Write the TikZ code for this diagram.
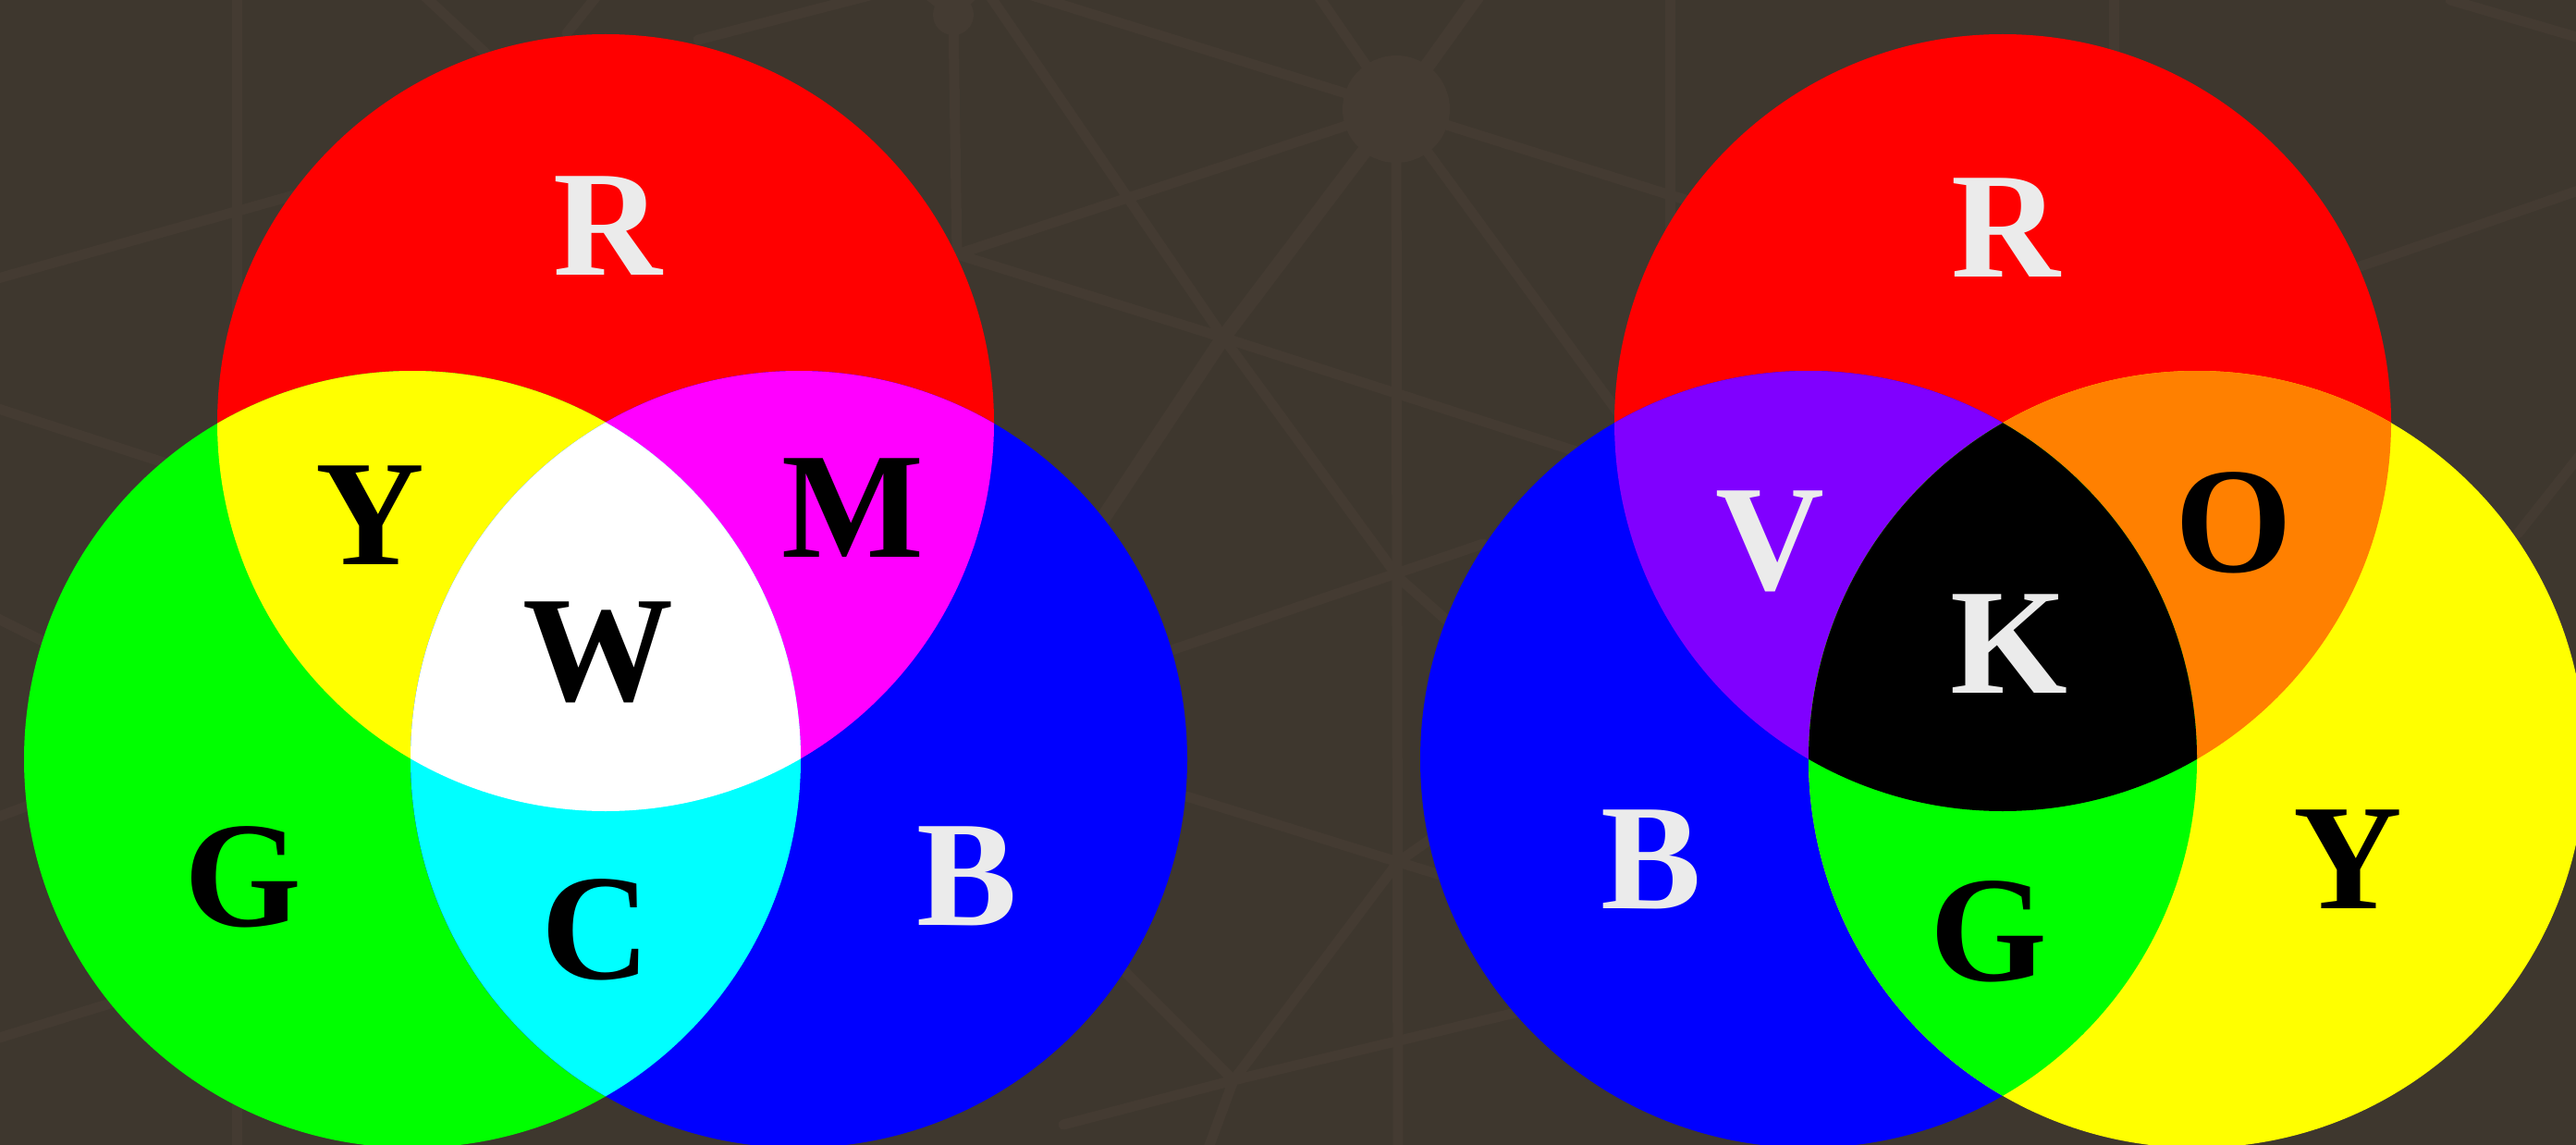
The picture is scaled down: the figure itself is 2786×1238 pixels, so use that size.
\documentclass[tikz,border=0pt]{standalone}
\usepackage{fontspec}
\setmainfont{Liberation Serif}
\definecolor{bgc}{RGB}{62,55,46}
\definecolor{webc}{RGB}{68,59,50}
\definecolor{litec}{RGB}{235,235,235}
\definecolor{cred}{RGB}{255,0,0}
\definecolor{cgreen}{RGB}{0,255,0}
\definecolor{cblue}{RGB}{0,0,255}
\definecolor{cyellow}{RGB}{255,255,0}
\definecolor{cmagenta}{RGB}{255,0,255}
\definecolor{ccyan}{RGB}{0,255,255}
\definecolor{cwhite}{RGB}{255,255,255}
\definecolor{cblack}{RGB}{0,0,0}
\definecolor{cviolet}{RGB}{128,0,255}
\definecolor{corange}{RGB}{255,128,0}
\newcommand*\cLR{(655,457) circle[radius=420pt]}
\newcommand*\cLG{(446,821) circle[radius=420pt]}
\newcommand*\cLB{(864,821) circle[radius=420pt]}
\newcommand*\cRR{(2166,457) circle[radius=420pt]}
\newcommand*\cRB{(1956,821) circle[radius=420pt]}
\newcommand*\cRY{(2376,821) circle[radius=420pt]}
\begin{document}
\begin{tikzpicture}[x=1pt,y=-1pt,
  lab/.style={font=\fontsize{163}{163}\selectfont\bfseries, anchor=base, inner sep=0pt},
  webline/.style={draw=webc, line width=11pt, line cap=round},
  thickweb/.style={draw=webc, line width=16pt, line cap=round}]
\useasboundingbox (0,0) rectangle (2786,1238);
\fill[bgc] (0,0) rectangle (2786,1238);
\begin{scope}
\clip (0,0) rectangle (2786,1238);
% background web
\coordinate (hub) at (1510,118);
\coordinate (jb) at (1031,16);
\coordinate (jh) at (1035,275);
\coordinate (jc) at (1323,365);
\coordinate (je) at (1512,624);
\coordinate (jg) at (1512,932);
\coordinate (jf) at (1334,1168);
\draw[webline] (256,-20) -- (256,1260);
\draw[webline] (hub) -- (1512,1260);
\draw[webline] (jb) -- (jh);
\draw[webline] (1806,-20) -- (1806,300);
\draw[webline] (2286,-20) -- (2286,120);
\draw[webline] (hub) -- (1415,-20);
\draw[thickweb] (hub) -- (1609,-20);
\draw[webline] (hub) -- (1100,-10);
\draw[webline] (hub) -- (jh);
\draw[thickweb] (hub) -- (jc) -- (1150,625);
\draw[webline] (hub) -- (1747,442) -- (1850,580);
\draw[webline] (hub) -- (1800,209) -- (2100,300);
\draw[webline] (453,-10) -- (560,90);
\draw[webline] (650,-10) -- (613,36);
\draw[webline] (755,43) -- (960,-10);
\draw[webline] (jb) -- (986,-20);
\draw[webline] (jb) -- (1066,-20);
\draw[webline] (1060,-20) -- (jc) -- (je) -- (1620,720);
\draw[webline] (jh) -- (jc) -- (1711,490);
\draw[webline] (1267,703) -- (1604,588);
\draw[webline] (1283,861) -- (jg) -- (1620,965);
\draw[webline] (1216,1050) -- (jf);
\draw[webline] (jf) -- (jg);
\draw[webline] (jf) -- (1660,1090);
\draw[webline] (1150,1216) -- (jf);
\draw[webline] (jf) -- (1300,1260);
\draw[webline] (jg) -- (1700,800);
\draw[webline] (-20,306) -- (500,160);
\draw[webline] (-20,436) -- (300,540);
\draw[webline] (-20,660) -- (60,700);
\draw[webline] (-20,890) -- (60,860);
\draw[webline] (-20,1128) -- (200,1060);
\draw[webline] (2550,289) -- (2800,202);
\draw[webline] (2650,0) -- (2800,44);
\draw[webline] (2723,577) -- (2800,480);
\fill[webc] (hub) circle[radius=58pt];
\fill[webc] (jb) circle[radius=22pt];
% left diagram (additive)
\fill[cred] \cLR;
\fill[cgreen] \cLG;
\fill[cblue] \cLB;
\begin{scope}\clip \cLR; \fill[cyellow] \cLG; \fill[cmagenta] \cLB; \end{scope}
\begin{scope}\clip \cLG; \fill[ccyan] \cLB; \end{scope}
\begin{scope}\clip \cLR; \clip \cLG; \fill[cwhite] \cLB; \end{scope}
% right diagram (subtractive)
\fill[cred] \cRR;
\fill[cblue] \cRB;
\fill[cyellow] \cRY;
\begin{scope}\clip \cRR; \fill[cviolet] \cRB; \fill[corange] \cRY; \end{scope}
\begin{scope}\clip \cRB; \fill[cgreen] \cRY; \end{scope}
\begin{scope}\clip \cRR; \clip \cRB; \fill[cblack] \cRY; \end{scope}
\end{scope}
% labels, left
\node[lab, text=litec] (lR) at (657,298) {R};
\node[lab, text=cblack] (lY) at (400,610) {Y};
\node[lab, text=cblack] (lM) at (922,602) {M};
\node[lab, text=cblack] (lW) at (647,757) {W};
\node[lab, text=cblack] (lG) at (263,1001) {G};
\node[lab, text=cblack] (lC) at (644,1058) {C};
\node[lab, text=litec] (lB) at (1046,1000) {B};
% labels, right
\node[lab, text=litec] (rR) at (2169,300) {R};
\node[lab, text=litec] (rV) at (1914,637) {V};
\node[lab, text=cblack] (rO) at (2416,618) {O};
\node[lab, text=litec] (rK) at (2173,749) {K};
\node[lab, text=litec] (rB) at (1786,982) {B};
\node[lab, text=cblack] (rG) at (2151,1060) {G};
\node[lab, text=cblack] (rY) at (2539,982) {Y};
\end{tikzpicture}
\end{document}
